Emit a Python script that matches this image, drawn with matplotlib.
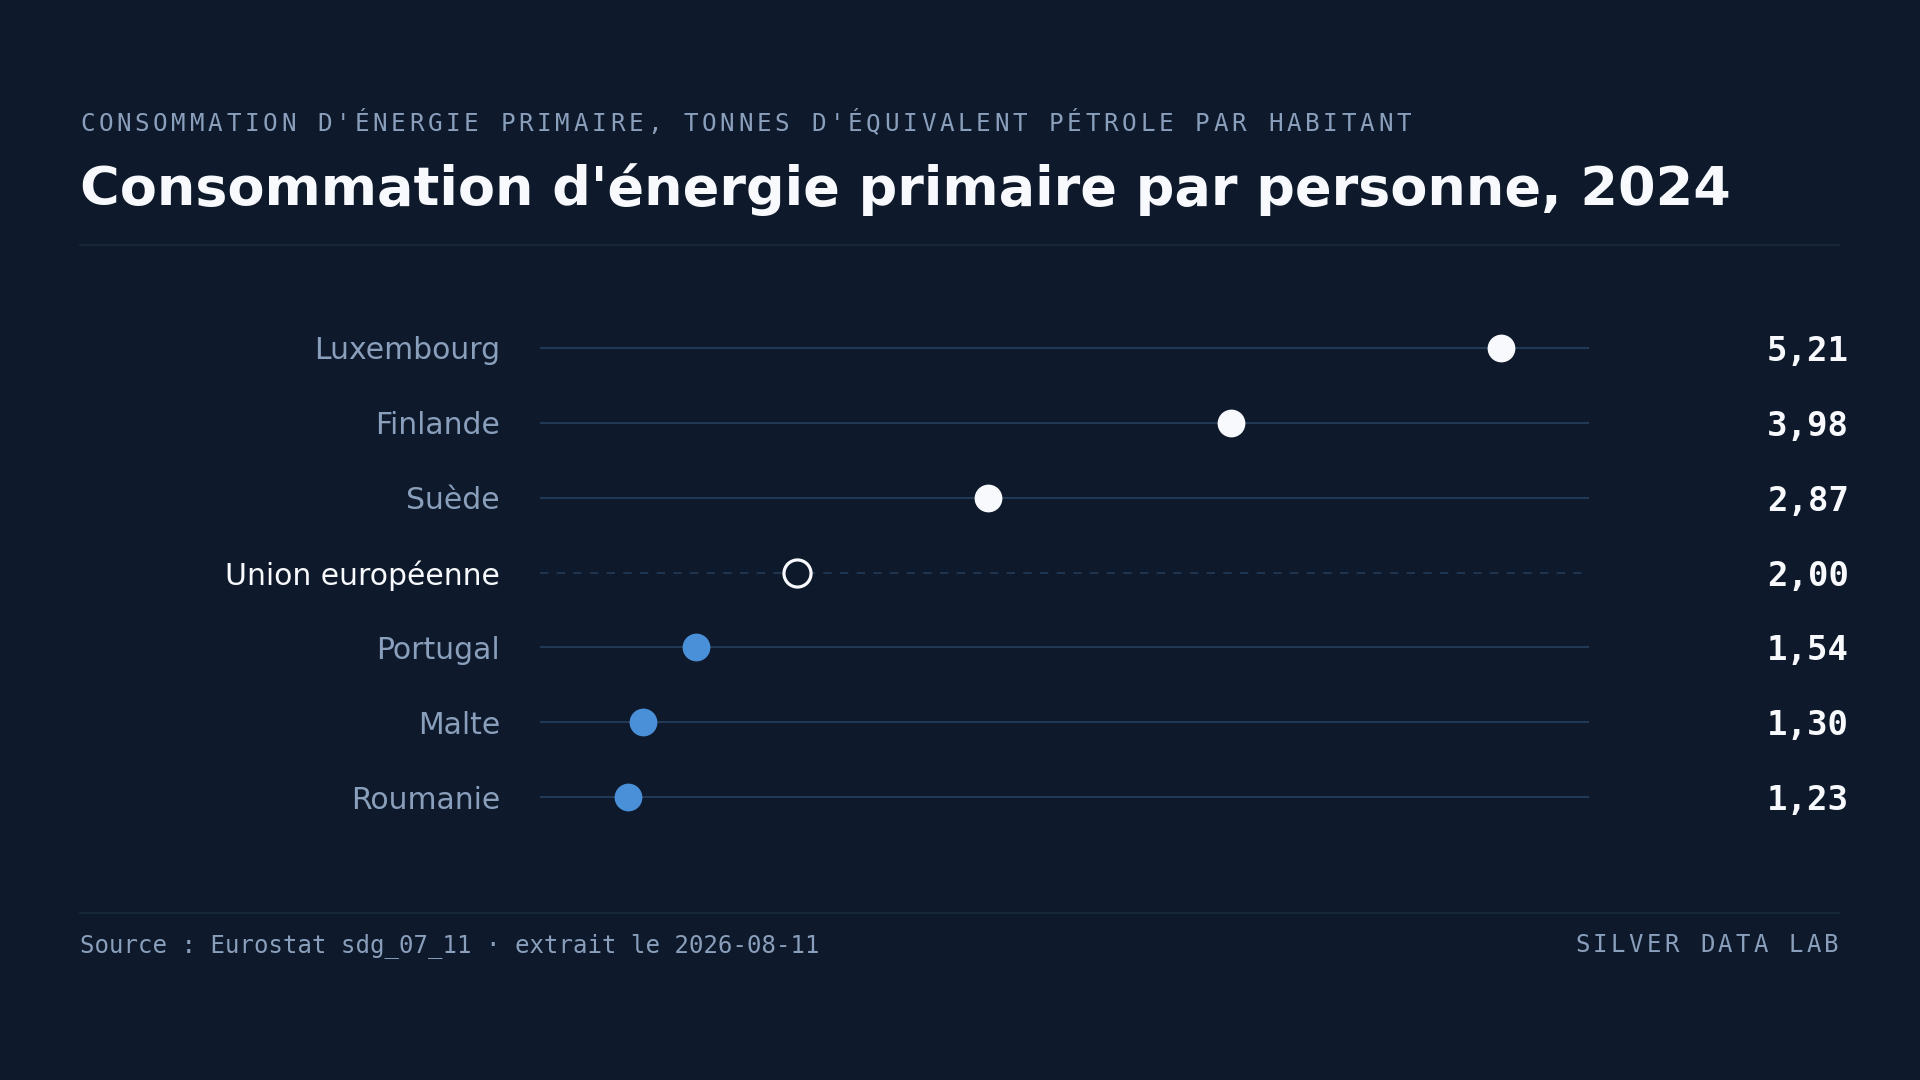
import matplotlib
matplotlib.use("Agg")
import matplotlib.pyplot as plt
import matplotlib.transforms as mtransforms

# ---- data ----
countries = ["Luxembourg", "Finlande", "Suède", "Union européenne", "Portugal", "Malte", "Roumanie"]
values = [5.21, 3.98, 2.87, 2.00, 1.54, 1.30, 1.23]
groups = ["high", "high", "high", "eu", "low", "low", "low"]
value_labels = ["5,21", "3,98", "2,87", "2,00", "1,54", "1,30", "1,23"]

kicker = "CONSOMMATION D'ÉNERGIE PRIMAIRE, TONNES D'ÉQUIVALENT PÉTROLE PAR HABITANT"
title = "Consommation d'énergie primaire par personne, 2024"
source = "Source : Eurostat sdg_07_11 · extrait le 2026-08-11"
brand = "SILVER DATA LAB"

# ---- style ----
BG = "#0e1a2b"
GRID = "#233a57"
RULE = "#1a2a3e"
MUTED = "#8a9fbc"
WHITE = "#f7f9fc"
BLUE = "#4a90d9"

W, H = 1920, 1080
fig = plt.figure(figsize=(W / 100, H / 100), dpi=100, facecolor=BG)

def fx(px):
    return px / W

def fy(py):
    return 1 - py / H

def spaced(text, x0, y, step, **kw):
    for i, ch in enumerate(text):
        fig.text(fx(x0 + i * step), fy(y), ch, ha="left", va="baseline", **kw)

# kicker (letter-spaced monospace)
spaced(kicker, 80, 131, 18.28, family="DejaVu Sans Mono", fontsize=17.5, color=MUTED)

# title
fig.text(fx(80), fy(205), title, ha="left", va="baseline", family="DejaVu Sans",
         fontweight="bold", fontsize=38.9, color=WHITE)

# rules
fig.add_artist(plt.Line2D([fx(80), fx(1839)], [fy(245), fy(245)], color=RULE, lw=1.2))
fig.add_artist(plt.Line2D([fx(80), fx(1839)], [fy(913), fy(913)], color=RULE, lw=1.2))

# footer
fig.text(fx(80), fy(952), source, ha="left", va="baseline", family="DejaVu Sans Mono",
         fontsize=17.25, color=MUTED)
brand_step = 17.8
spaced(brand, 1838 - (len(brand) - 1) * brand_step - 13.5, 952, brand_step,
       family="DejaVu Sans Mono", fontsize=17.25, color=MUTED)

# ---- axes ----
row_top, row_gap = 348, 74.85
n = len(countries)
ax_top = row_top - row_gap / 2
ax_h = row_gap * n
ax = fig.add_axes([fx(540), fy(ax_top + ax_h), (1589 - 540) / W, ax_h / H])
ax.set_facecolor("none")
pad = 0.4
ax.set_xlim(min(values) - pad, max(values) + pad)
ax.set_ylim(n - 0.5, -0.5)
ax.axis("off")

lo, hi = ax.get_xlim()
blend = mtransforms.blended_transform_factory(fig.transFigure, ax.transData)

for i, (c, v, g, lab) in enumerate(zip(countries, values, groups, value_labels)):
    if g == "eu":
        ax.plot([lo, hi], [i, i], color=GRID, lw=1.2, ls=(0, (5, 5)), zorder=1)
        ax.plot([v], [i], marker="o", ms=19.5, mfc=BG, mec=WHITE, mew=2.3, ls="none", zorder=3)
        lc = WHITE
    else:
        ax.plot([lo, hi], [i, i], color=GRID, lw=1.4, zorder=1)
        col = WHITE if g == "high" else BLUE
        ax.plot([v], [i], marker="o", ms=20, mfc=col, mec="none", ls="none", zorder=3)
        lc = MUTED
    ax.text(fx(500), i, c, transform=blend, ha="right", va="center_baseline",
            family="DejaVu Sans", fontsize=21.5, color=lc)
    ax.text(fx(1849), i, lab, transform=blend, ha="right", va="center_baseline",
            family="DejaVu Sans Mono", fontsize=24.5, fontweight="bold", color=WHITE)

fig.savefig("out.png", dpi=100, facecolor=BG)
